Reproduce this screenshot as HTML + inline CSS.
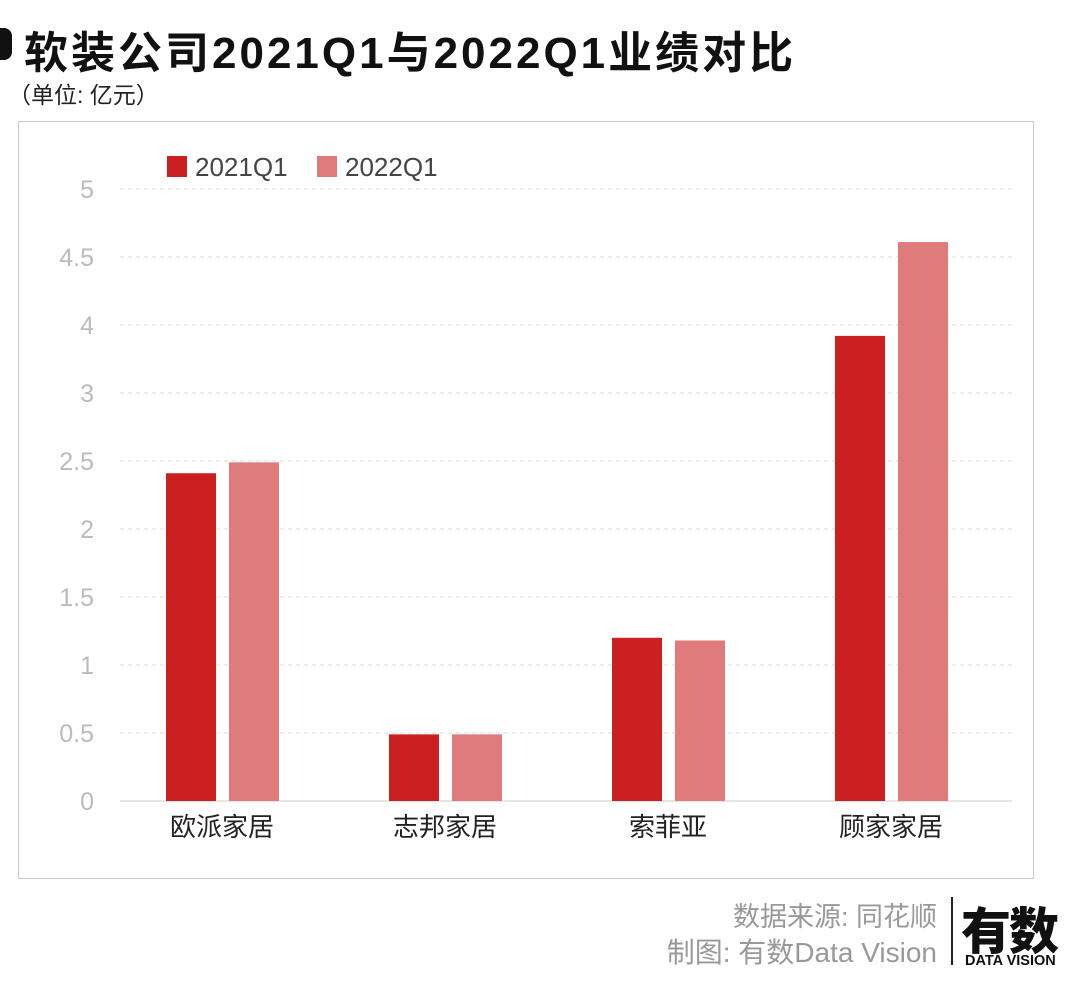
<!DOCTYPE html>
<html><head><meta charset="utf-8">
<style>
body{margin:0;width:1080px;height:989px;background:#fff;font-family:"Liberation Sans","Noto Sans CJK SC",sans-serif;position:relative;overflow:hidden}
.abs{position:absolute}
</style></head><body>
<div class="abs" style="left:0;top:28px;width:12px;height:32px;background:#111;border-radius:0 8px 8px 0"></div>
<div class="abs" style="left:24px;top:17px;font-size:44px;font-weight:bold;color:#111;white-space:nowrap;letter-spacing:3px">软装公司2021Q1与2022Q1业绩对比</div>
<div class="abs" style="left:8px;top:76px;font-size:23px;color:#222">（单位: 亿元）</div>
<div class="abs" style="left:18px;top:121px;width:1014px;height:756px;border:1px solid #ccc"></div>
<svg class="abs" style="left:0;top:0" width="1080" height="989">
<g id="g"></g>
</svg>
<div class="abs" style="right:143px;top:895px;font-size:27px;color:#999;white-space:nowrap">数据来源: 同花顺</div>
<div class="abs" style="right:143px;top:931px;font-size:28px;color:#999;white-space:nowrap">制图: 有数Data Vision</div>
<div class="abs" style="left:951px;top:897px;width:2px;height:68px;background:#222"></div>
<div class="abs" style="left:961px;top:892px;font-size:50px;font-weight:900;color:#111;letter-spacing:-2px">有数</div>
<div class="abs" style="left:965px;top:953px;font-size:14.5px;font-weight:bold;color:#111;white-space:nowrap">DATA VISION</div>
<script>
const categories=["欧派家居","志邦家居","索菲亚","顾家家居"];
const series2021=[2.41,0.49,1.20,3.42];
const series2022=[2.49,0.49,1.18,4.11];
const tickValues=[0,0.5,1,1.5,2,2.5,3,3.5,4,4.5];
const tickLabels=["0","0.5","1","1.5","2","2.5","3","4","4.5","5"];
const seriesNames=["2021Q1","2022Q1"];
const colors=["#cc1f1f","#e07b7b"];
const NS="http://www.w3.org/2000/svg";
const g=document.getElementById("g");
const gx0=120,gx1=1012,x0=110.5,x1=1002.5,yBase=801,yTop=189,vmax=4.5;
const y=v=>yBase-(v/vmax)*(yBase-yTop);
const band=(x1-x0)/categories.length;
const xc=i=>x0+band*(i+0.5);
function mk(t,a){const e=document.createElementNS(NS,t);for(const k in a)e.setAttribute(k,a[k]);g.appendChild(e);return e;}
tickValues.forEach((v,i)=>{
 const l=mk("line",{x1:gx0,x2:gx1,y1:y(v),y2:y(v),stroke:v===0?"#ccc":"#ddd","stroke-dasharray":v===0?"":"4,4"});
 
 
 const t=mk("text",{x:94,y:y(v)+9,"text-anchor":"end","font-size":25,fill:"#bbb"});
 t.textContent=tickLabels[i];
 
 
});
[series2021,series2022].forEach((s,si)=>{
 s.forEach((v,i)=>{
  const bx=xc(i)-56+si*63;
  const r=mk("rect",{x:bx,y:y(v),width:50,height:yBase-y(v),fill:colors[si]});
  
  
 });
});
categories.forEach((c,i)=>{
 const t=mk("text",{x:xc(i),y:836,"text-anchor":"middle","font-size":26,fill:"#222"});
 t.textContent=c;
 
 
});
seriesNames.forEach((n,i)=>{
 const lx=167+i*150;
 const r=mk("rect",{x:lx,y:156,width:20,height:21,fill:colors[i]});
 
 
 const t=mk("text",{x:lx+28,y:176,"font-size":26,fill:"#444"});
 t.textContent=n;
 
 
});
</script>
</body></html>
